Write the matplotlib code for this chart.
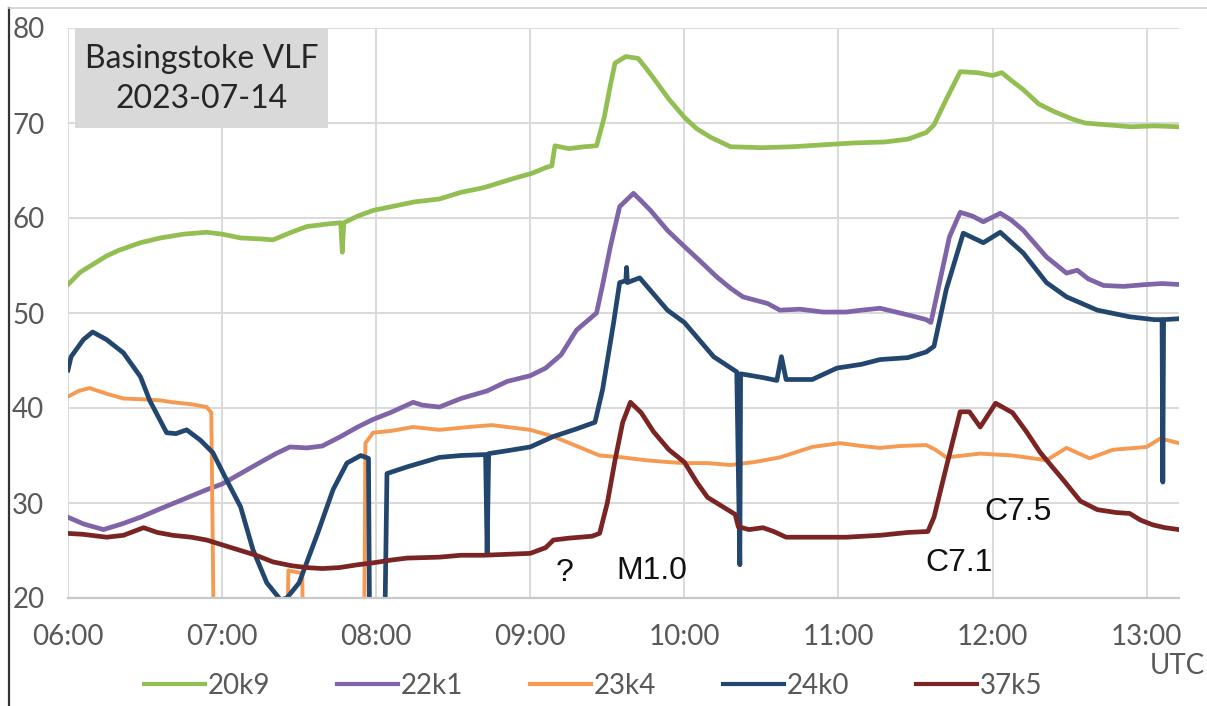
import matplotlib.pyplot as plt
from matplotlib.lines import Line2D
from matplotlib.patches import Rectangle

# Basingstoke VLF receiver, signal strength of five transmitters on 2023-07-14
# times are decimal hours UTC

t_20k9 = [6.00, 6.08, 6.17, 6.25, 6.33, 6.47, 6.60, 6.75, 6.90, 7.00, 7.12, 7.25, 7.33,
          7.45, 7.55, 7.70, 7.77, 7.78, 7.79, 7.88, 7.98, 8.10, 8.25, 8.41, 8.55, 8.70,
          8.80, 8.90, 9.01, 9.10, 9.14, 9.16, 9.25, 9.35, 9.43, 9.48, 9.52, 9.55, 9.62,
          9.70, 9.75, 9.81, 9.90, 10.00, 10.08, 10.17, 10.30, 10.50, 10.70, 10.90, 11.10,
          11.30, 11.45, 11.57, 11.62, 11.70, 11.79, 11.90, 12.00, 12.06, 12.12, 12.20,
          12.30, 12.40, 12.52, 12.60, 12.75, 12.90, 13.05, 13.21]
v_20k9 = [53.0, 54.3, 55.2, 56.0, 56.6, 57.4, 57.9, 58.3, 58.5, 58.3, 57.9, 57.8, 57.7,
          58.5, 59.1, 59.4, 59.5, 56.4, 59.5, 60.2, 60.8, 61.2, 61.7, 62.0, 62.7, 63.2,
          63.7, 64.2, 64.7, 65.3, 65.5, 67.6, 67.3, 67.5, 67.6, 70.6, 74.0, 76.3, 77.0,
          76.8, 75.8, 74.5, 72.5, 70.6, 69.4, 68.5, 67.5, 67.4, 67.5, 67.7, 67.9,
          68.0, 68.3, 69.0, 69.8, 72.5, 75.4, 75.3, 75.0, 75.3, 74.5, 73.5,
          72.0, 71.2, 70.4, 70.0, 69.8, 69.6, 69.7, 69.6]

t_22k1 = [6.00, 6.10, 6.23, 6.35, 6.47, 6.60, 6.75, 6.90, 7.00, 7.12, 7.25, 7.35, 7.44,
          7.55, 7.65, 7.77, 7.88, 7.98, 8.09, 8.24, 8.30, 8.41, 8.55, 8.72, 8.85, 9.00,
          9.10, 9.20, 9.30, 9.43, 9.47, 9.52, 9.58, 9.67, 9.72, 9.78, 9.89, 10.00, 10.10,
          10.21, 10.30, 10.38, 10.54, 10.62, 10.75, 10.90, 11.05, 11.15, 11.27, 11.40,
          11.50, 11.57, 11.60, 11.64, 11.72, 11.79, 11.87, 11.94, 12.05, 12.12, 12.20,
          12.28, 12.35, 12.48, 12.55, 12.62, 12.72, 12.85, 13.00, 13.10, 13.21]
v_22k1 = [28.5, 27.8, 27.2, 27.8, 28.5, 29.4, 30.4, 31.4, 32.0, 33.1, 34.3, 35.2, 35.9,
          35.8, 36.0, 37.0, 38.0, 38.8, 39.5, 40.6, 40.3, 40.1, 41.0, 41.8, 42.8, 43.4,
          44.2, 45.6, 48.2, 50.0, 53.0, 57.0, 61.2, 62.6, 61.8, 60.8, 58.7, 57.0, 55.5,
          53.8, 52.6, 51.7, 51.0, 50.3, 50.4, 50.1, 50.1, 50.3, 50.5, 50.0,
          49.6, 49.3, 49.0, 52.0, 58.0, 60.6, 60.2, 59.6, 60.5, 59.8, 58.7,
          57.2, 55.9, 54.2, 54.5, 53.6, 52.9, 52.8, 53.0, 53.1, 53.0]

t_23k4 = [6.00, 6.07, 6.14, 6.25, 6.36, 6.50, 6.60, 6.68, 6.80, 6.90, 6.93, 6.95, 7.42,
          7.43, 7.52, 7.53, 7.92, 7.93, 7.98, 8.10, 8.24, 8.41, 8.60, 8.75, 9.00, 9.15,
          9.30, 9.45, 9.60, 9.75, 9.90, 10.00, 10.15, 10.30, 10.45, 10.62, 10.83, 11.01,
          11.15, 11.27, 11.40, 11.57, 11.63, 11.70, 11.92, 12.13, 12.35, 12.48, 12.63,
          12.78, 13.00, 13.09, 13.21]
v_23k4 = [41.2, 41.8, 42.1, 41.5, 41.0, 40.9, 40.8, 40.6, 40.4, 40.1, 39.5, 10.0, 10.0,
          22.9, 22.6, 10.0, 10.0, 36.3, 37.4, 37.6, 38.0, 37.7, 38.0, 38.2, 37.7, 37.0,
          36.0, 35.0, 34.8, 34.5, 34.3, 34.2, 34.2, 34.0, 34.3, 34.8, 35.9, 36.3,
          36.0, 35.8, 36.0, 36.1, 35.6, 34.8, 35.2, 35.0, 34.5, 35.8, 34.7,
          35.6, 35.9, 36.8, 36.3]

t_24k0 = [6.00, 6.02, 6.10, 6.16, 6.25, 6.36, 6.47, 6.53, 6.64, 6.70, 6.77, 6.86, 6.94,
          7.03, 7.12, 7.20, 7.29, 7.38, 7.42, 7.50, 7.62, 7.72, 7.81, 7.90, 7.95, 7.96,
          8.05, 8.07, 8.20, 8.41, 8.55, 8.71, 8.72, 8.73, 8.85, 9.00, 9.15, 9.30, 9.42,
          9.47, 9.54, 9.58, 9.62, 9.625, 9.63, 9.71, 9.80, 9.89, 10.00, 10.19, 10.34,
          10.36, 10.365, 10.51, 10.60, 10.63, 10.66, 10.83, 10.99, 11.15, 11.27, 11.45,
          11.57, 11.62, 11.70, 11.81, 11.94, 12.05, 12.20, 12.35, 12.48, 12.68, 12.89,
          13.05, 13.10, 13.105, 13.11, 13.21]
v_24k0 = [44.0, 45.4, 47.2, 48.0, 47.2, 45.8, 43.3, 40.8, 37.4, 37.3, 37.7, 36.6, 35.3,
          32.4, 29.6, 25.1, 21.6, 19.8, 20.0, 21.6, 26.8, 31.4, 34.2, 35.0, 34.7, 10.0,
          10.0, 33.1, 33.8, 34.8, 35.0, 35.1, 24.7, 35.2, 35.5, 35.9, 37.0, 37.8, 38.5,
          42.0, 48.9, 53.2, 53.4, 54.8, 53.2, 53.7, 52.0, 50.3, 49.0, 45.4, 43.8,
          23.5, 43.6, 43.2, 42.9, 45.4, 43.0, 43.0, 44.2, 44.6, 45.1, 45.3,
          45.9, 46.5, 52.5, 58.4, 57.4, 58.5, 56.3, 53.2, 51.7, 50.3, 49.6,
          49.3, 49.3, 32.2, 49.3, 49.4]

t_37k5 = [6.00, 6.10, 6.25, 6.36, 6.49, 6.58, 6.68, 6.80, 6.90, 7.00, 7.12, 7.22, 7.33,
          7.45, 7.55, 7.65, 7.76, 7.88, 7.98, 8.10, 8.20, 8.41, 8.55, 8.70, 8.85, 9.00,
          9.10, 9.15, 9.25, 9.40, 9.45, 9.50, 9.55, 9.60, 9.65, 9.72, 9.80, 9.90, 10.00,
          10.08, 10.15, 10.28, 10.33, 10.35, 10.42, 10.51, 10.58, 10.66, 10.85, 11.05,
          11.27, 11.45, 11.58, 11.62, 11.70, 11.79, 11.85, 11.92, 12.02, 12.13, 12.22,
          12.31, 12.46, 12.57, 12.68, 12.80, 12.89, 12.96, 13.04, 13.12, 13.21]
v_37k5 = [26.8, 26.7, 26.4, 26.6, 27.4, 26.9, 26.6, 26.4, 26.1, 25.6, 25.0, 24.5, 23.8,
          23.4, 23.2, 23.1, 23.2, 23.5, 23.7, 24.0, 24.2, 24.3, 24.5, 24.5, 24.6, 24.7,
          25.3, 26.1, 26.3, 26.5, 26.8, 30.0, 34.5, 38.5, 40.6, 39.5, 37.5, 35.6, 34.3,
          32.2, 30.6, 29.3, 28.8, 27.5, 27.2, 27.4, 27.0, 26.4, 26.4, 26.4,
          26.6, 26.9, 27.0, 28.5, 33.8, 39.6, 39.6, 38.0, 40.5, 39.5, 37.5,
          35.3, 32.4, 30.2, 29.3, 29.0, 28.9, 28.2, 27.7, 27.4, 27.2]

series_names = ['20k9', '22k1', '23k4', '24k0', '37k5']
series_colors = ['#92BE52', '#8064A8', '#F59A52', '#23466F', '#7A2424']
series_t = [t_20k9, t_22k1, t_23k4, t_24k0, t_37k5]
series_v = [v_20k9, v_22k1, v_23k4, v_24k0, v_37k5]

hour_ticks = [6, 7, 8, 9, 10, 11, 12, 13]
hour_labels = ['06:00', '07:00', '08:00', '09:00', '10:00', '11:00', '12:00', '13:00']
y_ticks = [20, 30, 40, 50, 60, 70, 80]

# flare notes: (text, time, level)
flare_notes = [('?', 9.225, 22.6), ('M1.0', 9.79, 22.8), ('C7.1', 11.78, 23.7), ('C7.5', 12.165, 29.0)]

fig = plt.figure(figsize=(12.07, 7.06), dpi=100)
ax = fig.add_axes([68/1207, 1 - 598/706, (1179 - 68)/1207, (598 - 28)/706])

for name, col, tt, vv in zip(series_names, series_colors, series_t, series_v):
    lw = 2.8 if name == '23k4' else 3.4
    ax.plot(tt, vv, color=col, lw=lw, label=name, solid_joinstyle='round')

ax.set_xlim(6.0, 13.21)
ax.set_ylim(20, 80)
ax.set_xticks(hour_ticks)
ax.set_xticklabels(hour_labels)
ax.set_yticks(y_ticks)
ax.grid(True, color='#d9d9d9', lw=1.4)
ax.set_axisbelow(True)
for s in ['left', 'right', 'top']:
    ax.spines[s].set_visible(False)
ax.spines['bottom'].set_color('#c8c8c8')
ax.spines['bottom'].set_linewidth(1.6)
ax.tick_params(length=0, labelsize=20, labelcolor='#595959')
ax.tick_params(axis='x', pad=19)
ax.tick_params(axis='y', pad=17)
for lab in ax.get_xticklabels() + ax.get_yticklabels():
    lab.set_fontfamily('Lato')

for txt, tx, ty in flare_notes:
    ax.text(tx, ty, txt, ha='center', va='center', fontsize=23,
            family='Liberation Sans', color='#111111')

# title box in the top-left corner
fig.add_artist(Rectangle((75/1207, 1 - 128/706), 253/1207, 99/706,
                         transform=fig.transFigure, facecolor='#d9d9d9', edgecolor='none'))
fig.text(201.5/1207, 1 - 79/706, 'Basingstoke VLF\n2023-07-14', ha='center', va='center',
         fontsize=23, family='Lato', color='#262626', linespacing=1.38)

fig.text(1205/1207, 1 - 666/706, 'UTC', ha='right', va='center', fontsize=20,
         family='Lato', color='#595959')

leg = fig.legend(loc='center', bbox_to_anchor=(593/1207, 1 - 686/706), ncol=5, frameon=False,
                 handlelength=2.2, handletextpad=0.1, columnspacing=2.4,
                 prop={'family': 'Lato', 'size': 20})
for t in leg.get_texts():
    t.set_color('#595959')
for h in leg.get_lines():
    h.set_linewidth(3.0)

# outer frame: dark left edge, light top edge
fig.add_artist(Line2D([9/1207, 9/1207], [0, 1 - 8/706], transform=fig.transFigure,
                      color='#333333', lw=1.6))
fig.add_artist(Line2D([9/1207, 1], [1 - 8/706, 1 - 8/706], transform=fig.transFigure,
                      color='#d0d0d0', lw=1.2))

fig.savefig('out.png', dpi=100, facecolor='white')
